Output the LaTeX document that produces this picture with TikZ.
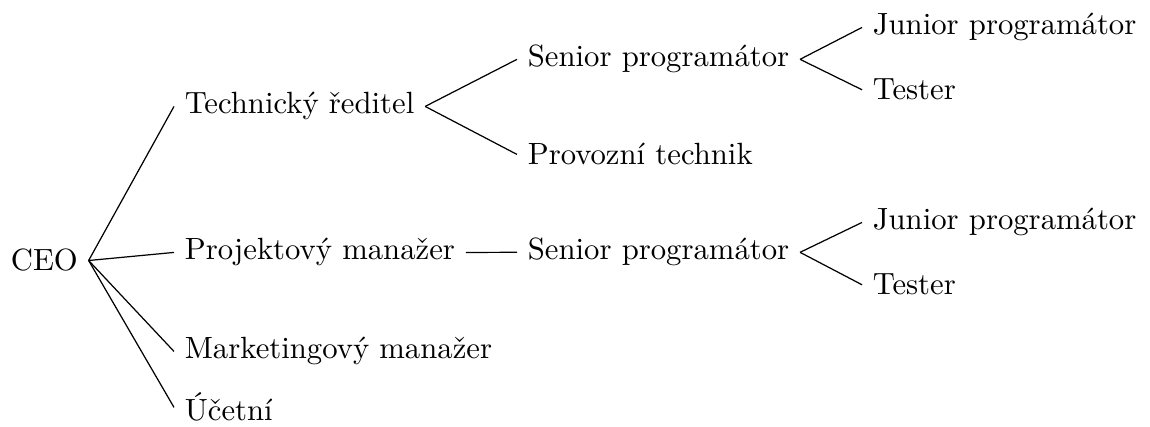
\documentclass[tikz,border=0pt]{standalone}
\usepackage{fontspec}
\begin{document}
\begin{tikzpicture}[x=0.3257pt,y=-0.3257pt,
  person/.style={anchor=base west, inner sep=3.33pt},
  link/.style={draw=black, line width=0.4pt}]
\useasboundingbox (0,0) rectangle (1150,427);

% root
\node[person] (ceo) at (0,271) {CEO};

% first level
\node[person] (tech) at (174,114) {Technický ředitel};
\node[person] (pm)   at (174,260) {Projektový manažer};
\node[person] (mkt)  at (174,359) {Marketingový manažer};
\node[person] (acc)  at (174,421) {Účetní};

% second level
\node[person] (sp1)  at (517,67)  {Senior programátor};
\node[person] (ops)  at (517,165) {Provozní technik};
\node[person] (sp2)  at (517,260) {Senior programátor};

% third level
\node[person] (jp1)  at (862,35)  {Junior programátor};
\node[person] (ts1)  at (862,100) {Tester};
\node[person] (jp2)  at (862,230) {Junior programátor};
\node[person] (ts2)  at (862,295) {Tester};

% reporting lines
\foreach \p/\c in {ceo/tech, ceo/pm, ceo/mkt, ceo/acc,
                   tech/sp1, tech/ops, pm/sp2,
                   sp1/jp1, sp1/ts1, sp2/jp2, sp2/ts2}
  \draw[link] (\p.east) -- (\c.west);
\end{tikzpicture}
\end{document}
